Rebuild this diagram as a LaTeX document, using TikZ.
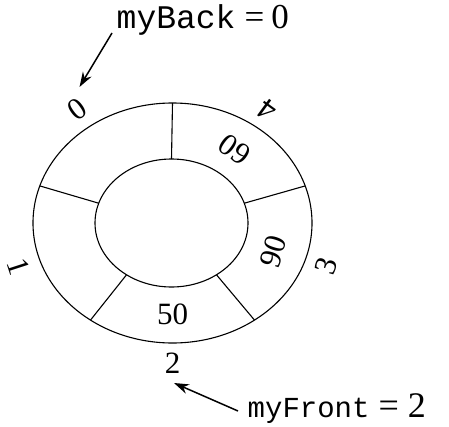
\documentclass[tikz,border=0pt]{standalone}
\usepackage{fontspec}
\setmainfont{Liberation Serif}
\setmonofont{Liberation Mono}
\usetikzlibrary{arrows.meta}
\begin{document}
\begin{tikzpicture}[x=1pt,y=1pt,
  ring/.style={line width=1.1pt},
  num/.style={font=\fontsize{31}{34}\selectfont, inner sep=0pt},
  ptr/.style={inner sep=0pt, anchor=base west},
  arr/.style={line width=1.5pt,-{Stealth[length=15pt,width=10pt]}}]
\useasboundingbox (-172.5,-203) rectangle (276.5,223);
\def\ORX{139.5}\def\ORY{120}
\def\IRX{76.5}\def\IRY{64}
\def\MRX{106}\def\MRY{91}
\def\LRX{162}\def\LRY{140}
% ring
\draw[ring] (0,0) ellipse [x radius=\ORX, y radius=\ORY];
\draw[ring] (-1,0) ellipse [x radius=\IRX, y radius=\IRY];
\foreach \a in {90,18,-54,-126,162}{
  \draw[ring] ({-1+\IRX*cos(\a)},{\IRY*sin(\a)}) -- ({\ORX*cos(\a)},{\ORY*sin(\a)});
}
% index labels
\node[num, rotate=216] (i0) at ({\LRX*cos(126)},{\LRY*sin(126)}) {0};
\node[num, rotate=-72] (i1) at ({\LRX*cos(198)},{\LRY*sin(198)}) {1};
\node[num, rotate=0]   (i2) at ({\LRX*cos(-90)},{\LRY*sin(-90)}) {2};
\node[num, rotate=72]  (i3) at ({\LRX*cos(-18)},{\LRY*sin(-18)}) {3};
\node[num, rotate=144] (i4) at ({\LRX*cos(54)},{\LRY*sin(54)}) {4};
% values
\node[num, rotate=0]   (v2) at ({\MRX*cos(-90)},{\MRY*sin(-90)}) {50};
\node[num, rotate=72]  (v3) at ({\MRX*cos(-18)},{\MRY*sin(-18)}) {90};
\node[num, rotate=144] (v4) at ({\MRX*cos(54)},{\MRY*sin(54)}) {60};
% pointers
\node[ptr] (back) at (-56,194) {\fontsize{33}{36}\selectfont\texttt{myBack}\hspace{9pt}{\fontsize{35}{38}\selectfont =\hspace{7pt}0}};
\node[ptr] (front) at (75,-194) {\fontsize{29}{32}\selectfont\texttt{myFront}\hspace{9pt}{\fontsize{36}{38}\selectfont =\hspace{9pt}2}};
\coordinate (bs) at (-60.5,190);
\coordinate (be) at (-93,136);
\coordinate (fs) at (65.5,-188);
\coordinate (fe) at (1.5,-160);
\draw[arr] (bs) -- (be);
\draw[arr] (fs) -- (fe);
\end{tikzpicture}
\end{document}
